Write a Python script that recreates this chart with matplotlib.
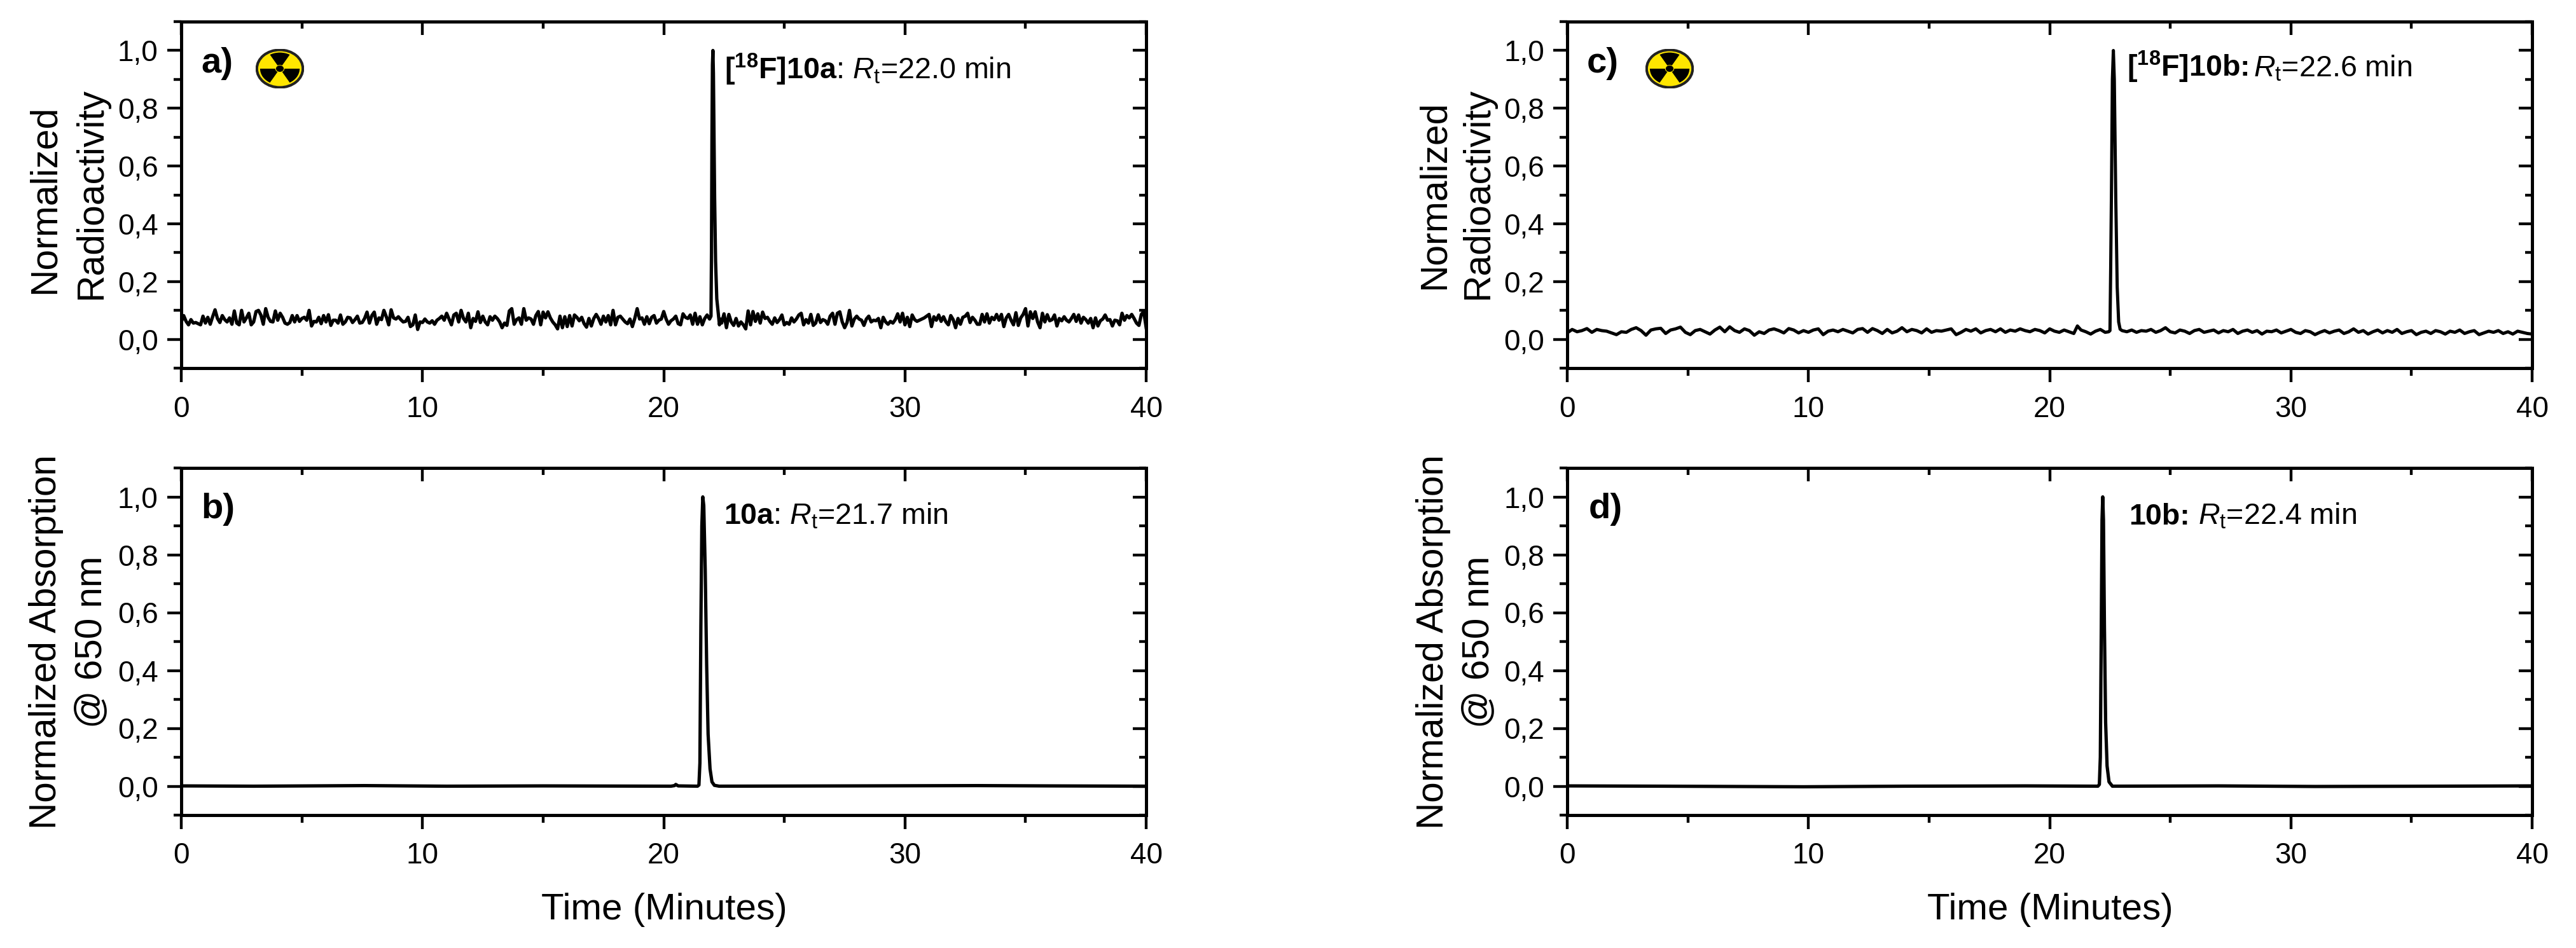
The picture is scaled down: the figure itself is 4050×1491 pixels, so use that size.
import numpy as np
import matplotlib
matplotlib.use('Agg')
import matplotlib.pyplot as plt
from matplotlib.patches import Ellipse, Wedge
from matplotlib.ticker import MultipleLocator

# 0.1 min steps in a, 0.2 min in c
a_base1 = [.060,.082,.062,.050,.068,.056,.058,.054,.050,.080,.056,.076,.052,.078,.102,.072,.058,.082,.068,.060,
           .074,.052,.098,.056,.050,.100,.060,.074,.090,.050,.060,.096,.100,.084,.052,.106,.076,.062,.060,.098,
           .066,.090,.076,.056,.052,.058,.082,.060,.082,.062,.072,.076,.066,.100,.046,.062,.060,.076,.054,.082,
           .060,.085,.048,.066,.066,.056,.084,.052,.060,.076,.074,.058,.068,.080,.056,.058,.072,.094,.056,.082,
           .094,.052,.074,.068,.100,.078,.050,.102,.074,.070,.078,.068,.060,.062,.076,.044,.050,.084,.034,.060,
           .058,.070,.060,.056,.064]
a_base2 = [.052,.066,.072,.080,.066,.090,.070,.050,.084,.090,.060,.100,.072,.060,.090,.040,.072,.062,.095,.058,
           .080,.060,.050,.078,.066,.080,.072,.060,.040,.056,.048,.098,.106,.052,.068,.074,.052,.106,.066,.074,
           .070,.052,.082,.096,.050,.094,.074,.095,.074,.060,.050,.036,.080,.040,.078,.044,.082,.046,.084,.076,
           .064,.076,.054,.042,.072,.046,.072,.086,.072,.052,.080,.060,.082,.050,.100,.050,.076,.080,.070,.060,
           .054,.070,.044,.072,.106,.070,.074,.052,.078,.054,.076,.082,.056,.066,.070,.096,.070,.052,.064,.070,
           .080,.054,.050,.088,.076]
a_base3 = [.072,.084,.052,.090,.052,.078,.050,.072,.084,.070]
a_peak_t = [21.96,21.98,22.00,22.02,22.04,22.06,22.08,22.11,22.15,22.20,22.26,22.31,22.35]
a_peak_y = [.080,.300,.700,.950,1.000,.920,.750,.490,.270,.140,.090,.050,.070]
a_base4 = [.056,.088,.040,.086,.060,.048,.072,.046,.060,.050,.036,.098,.050,.096,.062,.088,.056,.094,.072,.076,
           .062,.052,.074,.058,.068,.084,.050,.058,.052,.074,.060,.070,.084,.090,.050,.068,.056,.086,.048,.056,
           .085,.058,.068,.064,.052,.080,.090,.052,.090,.095,.060,.040,.058,.100,.046,.070,.080,.070,.066,.048,
           .070,.080,.060,.066,.064,.072,.040,.076,.060,.052,.062,.056,.068,.088,.060,.090,.050,.076,.044,.084,
           .068,.062,.066,.070,.074,.080,.086,.044,.078,.066,.084,.062]
a_base5 = [.078,.060,.050,.082,.068,.040,.072,.052,.076,.080,.090,.058,.076,.066,.052,.052,.086,.060,.088,.056,
           .076,.068,.086,.066,.086,.044,.074,.086,.066,.050,.092,.048,.074,.086,.106,.046,.095,.072,.095,.060,
           .040,.090,.060,.085,.064,.068,.084,.046,.072,.064,.078,.066,.060,.072,.086,.062,.084,.056,.076,.068,
           .056,.072,.040,.074,.046,.064,.070,.084,.066,.068,.046,.066,.064,.050,.090,.066,.082,.074,.086,.072,
           .056,.048,.086,.096,.040]

c_base1 = [.022,.034,.026,.030,.037,.024,.034,.030,.028,.022,.016,.026,.024,.034,.040,.030,.014,.032,.036,.038,
           .020,.032,.036,.042,.024,.016,.030,.034,.026,.018,.032,.042,.026,.043,.030,.024,.036,.030,.014,.026,
           .020,.032,.036,.030,.022,.037,.032,.022,.030,.024,.032,.036,.016,.028,.032,.026,.034,.028,.022,.034,
           .037,.024,.037,.030,.020,.034,.022,.028,.040,.026,.034,.030,.022,.036,.024,.030,.028,.032,.036,.016,
           .024,.034,.028,.036,.022,.030,.034,.026,.036,.024,.032,.028,.036,.030,.026,.034,.030,.022,.036]
c_base2_t = [20.2,20.4,20.6,20.8,21.0,21.15,21.3,21.5,21.7,21.9,22.1,22.3,22.45]
c_base2 = [.028,.024,.032,.026,.020,.046,.032,.026,.018,.028,.034,.024,.026]
c_peak_t = [22.50,22.53,22.56,22.60,22.64,22.68,22.74,22.80,22.86,22.92]
c_peak_y = [.030,.250,.500,.900,1.000,.900,.490,.180,.060,.035]
c_base3 = [.030,.026,.032,.024,.030,.028,.034,.024,.030,.040,.026,.022,.032,.028,.020,.030,.034,.024,.028,.032,
           .022,.030,.026,.034,.020,.028,.032,.024,.030,.018,.028,.026,.032,.022,.028,.034,.024,.020,.030,.026,
           .016,.024,.030,.022,.028,.032,.020,.026,.036,.024,.030,.018,.026,.032,.022,.030,.024,.034,.020,.026,
           .030,.016,.024,.028,.020,.030,.026,.018,.028,.024,.032,.020,.026,.030,.016,.022,.028,.024,.030,.020,
           .026,.018,.028,.024,.020,.018]

b_t = [0,3,7.6,11,15,20.3,20.45,20.5,20.6,21.4,21.46,21.50,21.54,21.58,21.62,21.66,21.72,21.78,21.84,21.92,22.0,22.1,22.3,28,33,36,40]
b_y = [.001,0,.002,0,.001,0,.002,.006,.001,0,.004,.080,.550,.900,1.000,.970,.750,.420,.180,.060,.015,.003,0,.001,.002,.001,0]
d_t = [0,4,9.8,14,19,22.0,22.06,22.10,22.14,22.17,22.20,22.23,22.27,22.32,22.38,22.46,22.6,27,31,36,40]
d_y = [.001,0,-.002,0,.001,0,.006,.100,.550,.920,1.000,.920,.550,.220,.070,.015,0,.001,-.001,0,.001]

x_ticks = [0,10,20,30,40]
y_ticks = [0,.2,.4,.6,.8,1.0]
y_ticklabels = ['0,0','0,2','0,4','0,6','0,8','1,0']

t_a = np.concatenate([np.linspace(0,10.4,len(a_base1)), np.linspace(10.5,20.9,len(a_base2)), np.linspace(21.0,21.9,len(a_base3)),
                      a_peak_t, np.linspace(22.4,31.5,len(a_base4)), np.linspace(31.6,40,len(a_base5))])
y_a = np.concatenate([a_base1,a_base2,a_base3,a_peak_y,a_base4,a_base5])
t_c = np.concatenate([np.linspace(0,20,len(c_base1)), c_base2_t, c_peak_t, np.linspace(23.0,40,len(c_base3))])
y_c = np.concatenate([c_base1,c_base2,c_peak_y,c_base3])

plt.rcParams['font.family'] = ['Liberation Sans']
plt.rcParams['mathtext.fontset'] = 'custom'
plt.rcParams['mathtext.rm'] = 'Liberation Sans'
plt.rcParams['mathtext.it'] = 'Liberation Sans:italic'
plt.rcParams['mathtext.bf'] = 'Liberation Sans:bold'
plt.rcParams['mathtext.default'] = 'regular'

W, H = 4050, 1491
fig = plt.figure(figsize=(W/300, H/300), dpi=300)


def make_ax(x0, x1, y0, y1):
    ax = fig.add_axes([x0/W, 1-y1/H, (x1-x0)/W, (y1-y0)/H])
    ax.set_xlim(0, 40)
    ax.set_ylim(-0.1, 1.1)
    ax.set_xticks(x_ticks)
    ax.set_yticks(y_ticks)
    ax.set_yticklabels(y_ticklabels)
    ax.xaxis.set_minor_locator(MultipleLocator(5))
    ax.yaxis.set_minor_locator(MultipleLocator(0.1))
    ax.tick_params(which='major', length=5.2, width=1.05, labelsize=11)
    ax.tick_params(which='minor', length=2.8, width=1.05)
    ax.tick_params(axis='x', which='major', pad=5)
    ax.tick_params(axis='y', which='major', pad=3.5)
    for s in ax.spines.values():
        s.set_linewidth(1.2)
    # mirrored ticks point inwards
    top = ax.secondary_xaxis('top')
    top.set_xticks(x_ticks)
    top.xaxis.set_minor_locator(MultipleLocator(5))
    right = ax.secondary_yaxis('right')
    right.set_yticks(y_ticks)
    right.yaxis.set_minor_locator(MultipleLocator(0.1))
    for sec in (top, right):
        sec.tick_params(which='major', direction='in', length=5, width=1.05, labeltop=False, labelright=False)
        sec.tick_params(which='minor', direction='in', length=2.6, width=1.05)
        for s in sec.spines.values():
            s.set_linewidth(1.2)
    return ax


def put(x, y, s, size, rot=0, **kw):
    fig.text(x/W, 1-y/H, s, fontsize=size, rotation=rot, rotation_mode='anchor', va='baseline', **kw)


def radiation(x, y, w, h):
    ia = fig.add_axes([(x-w/2)/W, 1-(y+h/2)/H, w/W, h/H])
    ia.set_xlim(-1.05, 1.05)
    ia.set_ylim(-1.05, 1.05)
    ia.axis('off')
    ia.add_patch(Ellipse((0, 0), 2, 2, fc='#ffe600', ec='#222222', lw=1.0))
    for a in (60, 180, 300):
        ia.add_patch(Wedge((0, 0), 0.86, a, a+60, width=0.66, fc='black', ec='none'))
    ia.add_patch(Ellipse((0, 0), 0.34, 0.34, fc='black', ec='none'))


ax_a = make_ax(285, 1802, 34, 579)
ax_b = make_ax(285, 1802, 736, 1282)
ax_c = make_ax(2464, 3981, 34, 579)
ax_d = make_ax(2464, 3981, 736, 1282)

ax_a.plot(t_a, y_a, color='black', lw=1.25)
ax_b.plot(b_t, b_y, color='black', lw=1.25)
ax_c.plot(t_c, y_c, color='black', lw=1.2)
ax_d.plot(d_t, d_y, color='black', lw=1.25)

put(316, 114, 'a)', 13.5, fontweight='bold')
put(316, 815, 'b)', 13.5, fontweight='bold')
put(2495, 114, 'c)', 13.5, fontweight='bold')
put(2498, 815, 'd)', 13.5, fontweight='bold')
radiation(440, 108, 76, 62)
radiation(2625, 108, 76, 62)

put(1139, 124, r'$\mathbf{[^{18}F]10a}$: $\mathit{R}_{t}$=22.0 min', 11.2)
put(3344, 120, r'$\mathbf{[^{18}F]10b}$:', 11.2, fontweight='bold')
put(3543, 120, r'$\mathit{R}_{t}$=22.6 min', 11.2)
put(1138, 825, r'$\mathbf{10a}$: $\mathit{R}_{t}$=21.7 min', 11.2)
put(3347, 825, '10b:', 11.2, fontweight='bold')
put(3456, 825, r'$\mathit{R}_{t}$=22.4 min', 11.2)

put(86, 313, 'Normalized', 14.1, rot=90, ha='center')
put(159, 304, 'Radioactivity', 14.1, rot=90, ha='center')
put(2271, 306, 'Normalized', 14.1, rot=90, ha='center')
put(2339, 304, 'Radioactivity', 14.1, rot=90, ha='center')
put(88, 1010, 'Normalized Absorption', 14.05, rot=90, ha='center')
put(159, 1010, '@ 650 nm', 14.05, rot=90, ha='center')
put(2269, 1010, 'Normalized Absorption', 14.05, rot=90, ha='center')
put(2340, 1010, '@ 650 nm', 14.05, rot=90, ha='center')

put(1044, 1446, 'Time (Minutes)', 14, ha='center')
put(3223, 1446, 'Time (Minutes)', 14, ha='center')

fig.savefig('out.png', dpi=300)
